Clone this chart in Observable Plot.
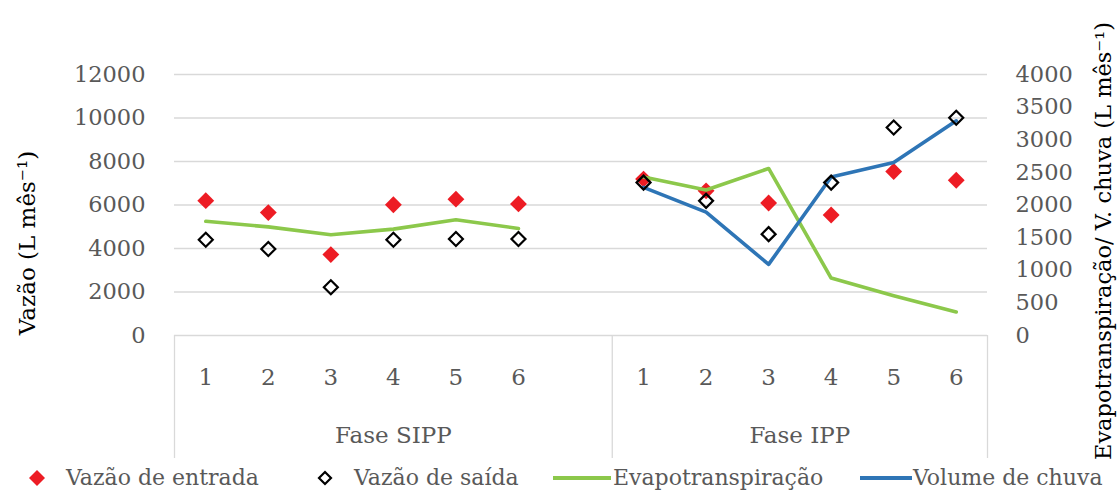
<!DOCTYPE html>
<html><head><meta charset="utf-8">
<script src="https://cdn.jsdelivr.net/npm/d3@7"></script>
<script src="https://cdn.jsdelivr.net/npm/@observablehq/plot@0.6"></script>
<style>
body{margin:0;background:#fff;}
#chart{width:1119px;height:465px;}
#chart svg{overflow:visible;}
.legend{position:relative;height:26px;width:1119px;font-family:"DejaVu Serif",serif;font-size:22px;color:#595959;}
.legend .sw{position:absolute;top:0;}
.legend .tx{position:absolute;top:0;line-height:26px;white-space:nowrap;}
</style></head><body><div id="chart"></div>
<div class="legend" id="legend"></div>
<script>
// ---- data ----
const phases = ["Fase SIPP", "Fase IPP"];
const months = ["1", "2", "3", "4", "5", "6"];
const leftTicks = [0, 2000, 4000, 6000, 8000, 10000, 12000];
const rightTicks = [0, 500, 1000, 1500, 2000, 2500, 3000, 3500, 4000];

// Vazão (L mês-1), left axis
const entradaSIPP = [6200, 5650, 3720, 6010, 6270, 6050];
const saidaSIPP   = [4400, 3980, 2220, 4400, 4440, 4440];
const entradaIPP  = [7190, 6650, 6090, 5540, 7540, 7140];
const saidaIPP    = [7030, 6190, 4660, 7030, 9560, 10010];
// Evapotranspiração / Volume de chuva (L mês-1), right axis
const evapoSIPP = [1750, 1665, 1545, 1630, 1775, 1640];
const evapoIPP  = [2430, 2230, 2560, 880, 610, 360];
const chuvaIPP  = [2270, 1890, 1090, 2430, 2650, 3290];

const leftMax = 12000, rightMax = 4000;
const k = leftMax / rightMax; // right-axis values mapped onto the shared y scale

// ---- build table ----
const slots = months.length + 1; // one empty category between phases
const rows = [];
const series = {
  "Fase SIPP": {entrada: entradaSIPP, saida: saidaSIPP, evapo: evapoSIPP, chuva: null},
  "Fase IPP": {entrada: entradaIPP, saida: saidaIPP, evapo: evapoIPP, chuva: chuvaIPP}
};
phases.forEach((p, pi) => {
  months.forEach((m, mi) => {
    const s = series[p];
    rows.push({phase: p, month: m, pos: pi * slots + mi + 0.5,
      entrada: s.entrada[mi], saida: s.saida[mi], evapo: s.evapo[mi],
      chuva: s.chuva ? s.chuva[mi] : null});
  });
});
const nCats = phases.length * slots - 1;
const tickPos = rows.map(d => d.pos);
const tickLab = new Map(rows.map(d => [d.pos, d.month]));
const bounds = [0, slots, nCats];
const phaseSpans = phases.map((p, i) => ({phase: p, mid: (bounds[i] + bounds[i + 1]) / 2}));

const grey = "#595959", gridc = "#d9d9d9";
const font = "DejaVu Serif";

const chart = Plot.plot({
  width: 1119, height: 465,
  marginLeft: 174, marginRight: 132, marginTop: 74, marginBottom: 130,
  style: {fontFamily: font, fontSize: "22px", background: "#fff", overflow: "visible"},
  x: {type: "linear", domain: [0, nCats]},
  y: {domain: [0, leftMax]},
  marks: [
    Plot.ruleY(leftTicks.filter(v => v > 0), {stroke: gridc, strokeWidth: 1.3}),
    Plot.ruleY([0], {stroke: gridc, strokeWidth: 1.3}),
    Plot.ruleX(bounds, {x: d => d, y1: 0, y2: 0, insetBottom: -123, stroke: gridc, strokeWidth: 1.3}),
    Plot.axisY({anchor: "left", ticks: leftTicks, tickFormat: v => String(v), tickSize: 0, tickPadding: 29, fontSize: 22.5, color: grey, label: null}),
    Plot.axisY({anchor: "right", ticks: rightTicks.map(v => v * k), tickFormat: v => String(Math.round(v / k)), tickSize: 0, tickPadding: 28, fontSize: 22.5, color: grey, label: null}),
    Plot.axisX({ticks: tickPos, tickFormat: v => tickLab.get(v), tickSize: 0, tickPadding: 33, fontSize: 23, color: grey, label: null}),
    Plot.text(phaseSpans, {x: "mid", text: "phase", frameAnchor: "bottom", dy: 107, fill: grey, fontSize: 23}),
    Plot.text(["Vazão (L mês⁻¹)"], {frameAnchor: "left", textAnchor: "middle", rotate: -90, dx: -147, dy: 38, fill: "#000", fontSize: 23}),
    Plot.text(["Evapotranspiração/ V. chuva (L mês⁻¹)"], {frameAnchor: "right", textAnchor: "middle", rotate: -90, dx: 116, dy: 36, fill: "#000", fontSize: 22.5}),
    Plot.dot(rows, {x: "pos", y: "entrada", symbol: "diamond2", r: 7.6, fill: "#ed1c24", stroke: "none"}),
    Plot.line(rows, {x: "pos", y: d => d.evapo * k, z: "phase", stroke: "#8cc84b", strokeWidth: 3.6}),
    Plot.line(rows.filter(d => d.chuva != null), {x: "pos", y: d => d.chuva * k, stroke: "#2e75b6", strokeWidth: 3.6}),
    Plot.dot(rows, {x: "pos", y: "saida", symbol: "diamond2", r: 6.3, fill: "none", stroke: "#000", strokeWidth: 2.2})
  ]
});
document.getElementById("chart").appendChild(chart);

// ---- legend ----
const legendItems = [
  {label: "Vazão de entrada", kind: "filled", color: "#ed1c24", sw: 27, tx: 66},
  {label: "Vazão de saída", kind: "hollow", color: "#000", sw: 315, tx: 354},
  {label: "Evapotranspiração", kind: "line", color: "#8cc84b", sw: 553, w: 58, tx: 613},
  {label: "Volume de chuva", kind: "line", color: "#2e75b6", sw: 860, w: 52, tx: 913}
];
const lg = document.getElementById("legend");
legendItems.forEach(it => {
  const w = it.kind === "line" ? it.w : 20;
  let shape;
  if (it.kind === "filled") shape = `<polygon points="10,5 18,13 10,21 2,13" fill="${it.color}"/>`;
  else if (it.kind === "hollow") shape = `<polygon points="10,7 16,13 10,19 4,13" fill="none" stroke="${it.color}" stroke-width="2.2"/>`;
  else shape = `<line x1="0" y1="13" x2="${w}" y2="13" stroke="${it.color}" stroke-width="4"/>`;
  lg.insertAdjacentHTML("beforeend",
    `<svg class="sw" style="left:${it.sw}px" width="${w}" height="26">${shape}</svg><span class="tx" style="left:${it.tx}px">${it.label}</span>`);
});
</script>
</body></html>
